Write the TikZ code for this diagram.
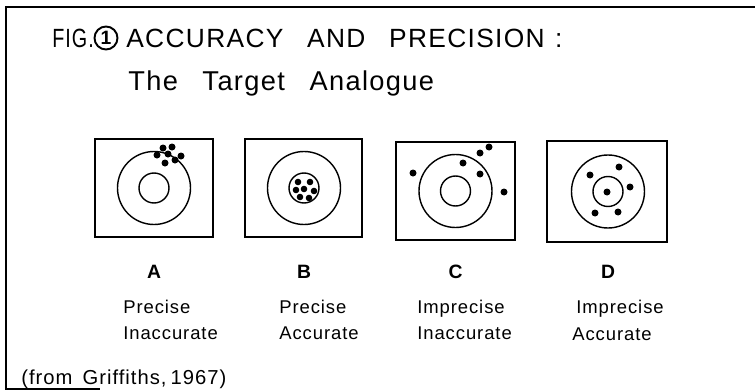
\documentclass[tikz,border=0pt]{standalone}
\usepackage{fontspec}
\setmainfont{Liberation Sans}[LetterSpace=5,WordSpace=1.8]
\usetikzlibrary{positioning}

\begin{document}
\begin{tikzpicture}[
  x=0.02cm, y=0.02cm,
  frame/.style={line width=1.1pt},
  tbox/.style={draw, line width=1.1pt},
  ring/.style={draw, line width=0.8pt},
  shot/.style={fill=black},
  lbl/.style={font=\bfseries\fontsize{11}{13}\selectfont},
  desc/.style={font=\fontsize{10.5}{15}\selectfont, anchor=west, align=left, inner sep=0pt},
  ttl/.style={font=\fontsize{15}{18}\selectfont, anchor=west, inner sep=0pt}
]
  \useasboundingbox (0,0) rectangle (755,-392);

  % --- frame (open at right) ---
  \draw[frame] (755,-7) -- (6,-7) -- (6,-389) -- (100,-389);

  % --- heading ---
  \node[ttl] (fig) at (52,-38) {\scalebox{0.75}[1]{FIG.}};
  \node[draw, circle, line width=1.1pt, inner sep=1.2pt, font=\bfseries\fontsize{11}{13}\selectfont] (num) at (106,-38) {1};
  \node[ttl] (head) at (126,-38) {ACCURACY\hspace{0.9em}AND\hspace{0.9em}PRECISION\hspace{0.4em}:};
  \node[ttl, font=\fontsize{15.5}{18}\selectfont] (sub) at (128,-83) {The\hspace{0.9em}Target\hspace{0.9em}Analogue};

  % --- targets ---
  \foreach \n/\cx/\cy/\xl/\xr/\yt/\yb in {A/154/188/95/213/139/237, B/304/188/245/362/139/237,
      C/455.5/191/396/515/142/240, D/608/191.5/547/667/141/242}
  {
    \draw[tbox] (\xl,-\yt) rectangle (\xr,-\yb);
    \draw[ring] (\cx,-\cy) circle (36.5);
    \draw[ring] (\cx,-\cy) circle (15);
    \node[lbl] (lbl\n) at (\cx,-272) {\n};
  }

  % --- shots ---
  \foreach \x/\y in {163/148,172/147,157/155,168/154,181/156,165/163,175/160} {\fill[shot] (\x,-\y) circle (3.5);}
  \foreach \x/\y in {304/189,298/182,310/182,296/190,314/191,300/197,309/198} {\fill[shot] (\x,-\y) circle (3.3);}
  \foreach \x/\y in {413/173,463/163,480/174,504/192,480/153,489/147} {\fill[shot] (\x,-\y) circle (3.5);}
  \foreach \x/\y in {607/192,590/175,619/167,630/187,595/213,618/212} {\fill[shot] (\x,-\y) circle (3.5);}

  % --- descriptions ---
  \node[desc] (dA) at (123,-320) {Precise\\Inaccurate};
  \node[desc] (dB) at (279,-320) {Precise\\Accurate};
  \node[desc] (dC) at (417,-320) {Imprecise\\Inaccurate};
  \node[desc] (dD1) at (576,-309) {Imprecise};
  \node[desc] (dD2) at (572,-334) {Accurate};

  % --- source ---
  \node[desc, font=\fontsize{11.5}{14}\selectfont] (src) at (21,-379) {(from\hspace{0.5em}Griffiths,\hspace{0.2em}1967)};
\end{tikzpicture}
\end{document}
